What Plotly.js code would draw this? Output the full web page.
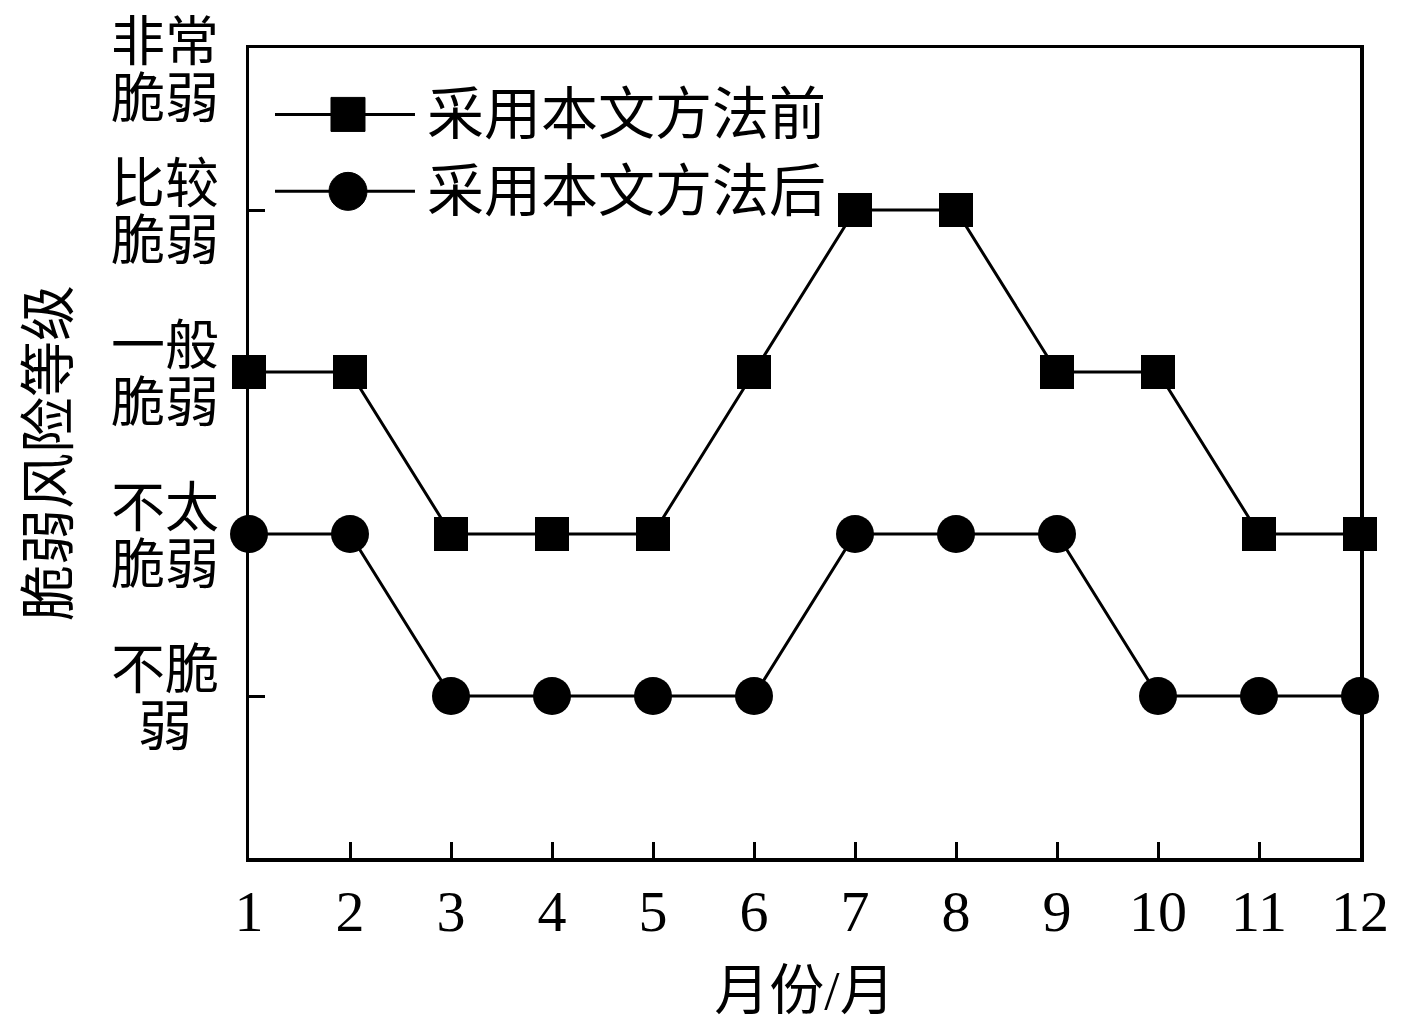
<!DOCTYPE html>
<html>
<head>
<meta charset="utf-8">
<script src="https://cdn.plot.ly/plotly-3.0.1.min.js"></script>
<style>html,body{margin:0;padding:0;background:#fff;}#chart{width:1417px;height:1025px;}</style>
</head>
<body>
<div id="chart"></div>
<script>
// ---- data ----
const months = [1,2,3,4,5,6,7,8,9,10,11,12];
const levelValues = [1,2,3,4,5];
const levelLine1 = ["不脆","不太","一般","比较","非常"];
const levelLine2 = ["弱","脆弱","脆弱","脆弱","脆弱"];
const seriesNames = ["采用本文方法前","采用本文方法后"];
const beforeValues = [3,3,2,2,2,3,4,4,3,3,2,2];
const afterValues  = [2,2,1,1,1,1,2,2,2,1,1,1];
const xTitle = "月份/月";
const yTitle = "脆弱风险等级";

const FONT = "Liberation Serif, 'Noto Sans CJK SC', serif";
const CJK = "'Liberation Serif', 'Noto Sans CJK SC', serif";

const traces = [
  {x: months, y: beforeValues, name: seriesNames[0], type: 'scatter', mode: 'lines+markers',
   line: {color: '#000', width: 3}, marker: {symbol: 'square', size: 34, color: '#000'},
   cliponaxis: false, showlegend: false},
  {x: months, y: afterValues, name: seriesNames[1], type: 'scatter', mode: 'lines+markers',
   line: {color: '#000', width: 3}, marker: {symbol: 'circle', size: 38, color: '#000'},
   cliponaxis: false, showlegend: false}
];

// custom legend (layout decoration)
const legendY = [0.918, 0.823];
const legendSymbols = ['rect', 'circle'];
const legendHalf = [17, 19];
const shapes = [];
const annotations = [];
seriesNames.forEach((nm, i) => {
  shapes.push({type: 'line', xref: 'paper', yref: 'paper', x0: 0.0234, x1: 0.1494, y0: legendY[i], y1: legendY[i],
               line: {color: '#000', width: 3}});
  shapes.push({type: legendSymbols[i], xref: 'paper', yref: 'paper', xsizemode: 'pixel', ysizemode: 'pixel',
               xanchor: 0.0891, yanchor: legendY[i],
               x0: -legendHalf[i], x1: legendHalf[i], y0: -legendHalf[i], y1: legendHalf[i],
               fillcolor: '#000', line: {color: '#000', width: 1}});
  annotations.push({xref: 'paper', yref: 'paper', x: 0.158, y: legendY[i], xanchor: 'left', yanchor: 'middle',
                    text: nm, showarrow: false, font: {family: CJK, size: 57, color: '#000'}});
});
// y tick labels (two lines each, centred, tight line pitch)
levelValues.forEach((v, i) => {
  [[levelLine1[i], 25], [levelLine2[i], -32]].forEach(([txt, dy]) => {
    annotations.push({xref: 'paper', yref: 'y', x: 0, y: v, xanchor: 'center', yanchor: 'middle',
                      xshift: -84, yshift: dy + (v === 5 ? -20 : 0),
                      align: 'center', text: txt, showarrow: false,
                      font: {family: CJK, size: 54, color: '#000'}});
  });
});

const layout = {
  width: 1417, height: 1025,
  paper_bgcolor: '#fff', plot_bgcolor: '#fff',
  margin: {l: 249, r: 57, t: 48, b: 167},
  showlegend: false,
  xaxis: {
    range: [1, 12], tickvals: months, ticktext: months.map(String),
    ticks: 'inside', ticklen: 16, tickwidth: 3, tickcolor: '#000',
    showline: true, linewidth: 3.5, linecolor: '#000', mirror: true,
    showgrid: false, zeroline: false,
    tickfont: {family: FONT, size: 58, color: '#000'},
    title: {text: xTitle, font: {family: CJK, size: 55, color: '#000'}, standoff: 28}
  },
  yaxis: {
    range: [0, 5], tickvals: levelValues, showticklabels: false,
    ticks: 'inside', ticklen: 16, tickwidth: 3, tickcolor: '#000',
    showline: true, linewidth: 3.5, linecolor: '#000', mirror: true,
    showgrid: false, zeroline: false,
    title: {text: yTitle, font: {family: CJK, size: 56, color: '#000'}, standoff: 160}
  },
  shapes: shapes,
  annotations: annotations
};

Plotly.newPlot('chart', traces, layout, {displayModeBar: false, staticPlot: true});
</script>
</body>
</html>
